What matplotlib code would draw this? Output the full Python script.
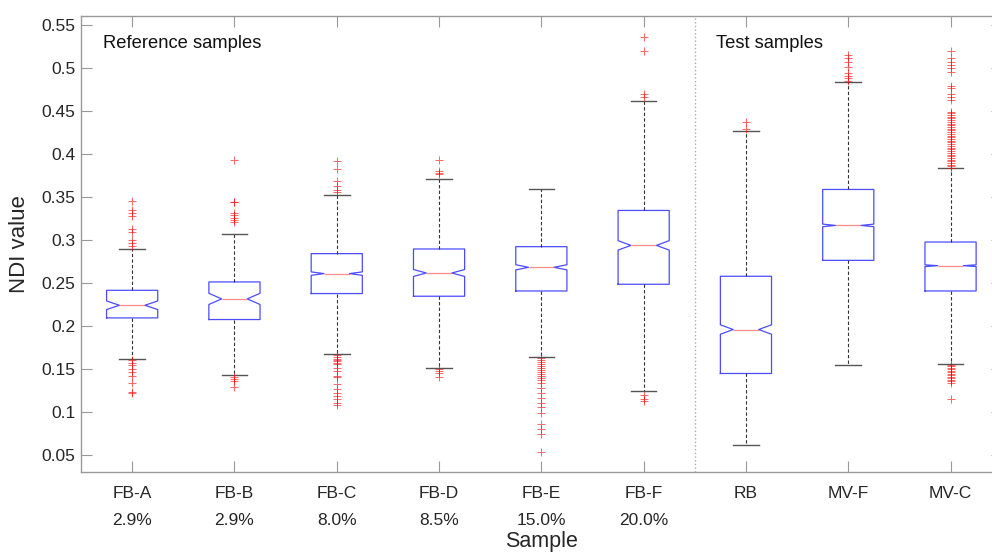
import matplotlib
matplotlib.use("Agg")
import matplotlib.pyplot as plt

plt.rcParams['font.family'] = ['Liberation Sans', 'DejaVu Sans']

samples = ["FB-A", "FB-B", "FB-C", "FB-D", "FB-E", "FB-F", "RB", "MV-F", "MV-C"]
percents = ["2.9%", "2.9%", "8.0%", "8.5%", "15.0%", "20.0%", "", "", ""]

q1 = [0.2091, 0.2072, 0.2374, 0.2343, 0.2404, 0.2482, 0.1445, 0.2760, 0.2404]
med = [0.2238, 0.2312, 0.2606, 0.2613, 0.2679, 0.2934, 0.1956, 0.3166, 0.2698]
q3 = [0.2412, 0.2509, 0.2838, 0.2892, 0.2919, 0.3340, 0.2575, 0.3584, 0.2973]
notch_half = [0.0050, 0.0065, 0.0020, 0.0040, 0.0030, 0.0055, 0.0055, 0.0015, 0.0010]
whis_lo = [0.1616, 0.1426, 0.1670, 0.1507, 0.1639, 0.1241, 0.0610, 0.1538, 0.1554]
whis_hi = [0.2892, 0.3070, 0.3514, 0.3708, 0.3584, 0.4616, 0.4268, 0.4829, 0.3828]

outliers = [
    [0.3445, 0.3348, 0.3309, 0.3271, 0.3124, 0.3089, 0.2992, 0.2961, 0.2930,
     0.1600, 0.1569, 0.1538, 0.1500, 0.1461, 0.1415, 0.1337, 0.1229, 0.1213],
    [0.3924, 0.3441, 0.3433, 0.3309, 0.3286, 0.3251, 0.3232, 0.3201,
     0.1407, 0.1384, 0.1357, 0.1291],
    [0.3916, 0.3824, 0.3677, 0.3627, 0.3581, 0.3550,
     0.1662, 0.1639, 0.1616, 0.1600, 0.1585, 0.1569, 0.1550, 0.1511, 0.1473,
     0.1415, 0.1407, 0.1318, 0.1260, 0.1221, 0.1183, 0.1144, 0.1105, 0.1074],
    [0.3928, 0.3800, 0.3781, 0.3766,
     0.1492, 0.1473, 0.1446, 0.1407],
    [0.1623, 0.1600, 0.1577, 0.1554, 0.1531, 0.1507, 0.1484, 0.1461, 0.1438,
     0.1415, 0.1391, 0.1368, 0.1337, 0.1279, 0.1221, 0.1163, 0.1105, 0.1059,
     0.0989, 0.0854, 0.0796, 0.0738, 0.0537],
    [0.5351, 0.5196, 0.4694, 0.4663,
     0.1190, 0.1144, 0.1124],
    [0.4369, 0.4284],
    [0.5146, 0.5108, 0.5070, 0.5011, 0.4934, 0.4903, 0.4876, 0.4845],
    [0.5196, 0.5108, 0.5070, 0.5031, 0.4991, 0.4953, 0.4787, 0.4760, 0.4694,
     0.4663, 0.4624, 0.4489, 0.4469, 0.4450, 0.4431, 0.4410, 0.4392, 0.4371,
     0.4350, 0.4332, 0.4310, 0.4291, 0.4270, 0.4249, 0.4231, 0.4210, 0.4190,
     0.4171, 0.4150, 0.4130, 0.4111, 0.4090, 0.4071, 0.4050, 0.4031, 0.4010,
     0.3990, 0.3971, 0.3950, 0.3930, 0.3910, 0.3891, 0.3870, 0.3851, 0.3836,
     0.1546, 0.1530, 0.1512, 0.1495, 0.1478, 0.1460, 0.1443, 0.1425, 0.1408,
     0.1390, 0.1372, 0.1355, 0.1337, 0.1152],
]

stats = []
for i in range(len(samples)):
    stats.append(dict(
        med=med[i], q1=q1[i], q3=q3[i],
        cilo=med[i] - notch_half[i], cihi=med[i] + notch_half[i],
        whislo=whis_lo[i], whishi=whis_hi[i],
        fliers=outliers[i], label=samples[i]))

W, H = 992, 554
fig = plt.figure(figsize=(W / 100, H / 100), dpi=100)
ax = fig.add_axes([81 / W, 1 - 472 / H, 920.7 / W, 456 / H])

positions = list(range(1, len(samples) + 1))
ax.bxp(stats, positions=positions, widths=0.5, capwidths=0.25,
       shownotches=True, patch_artist=False,
       boxprops=dict(color='#0000ff', linewidth=0.9, alpha=0.7),
       medianprops=dict(color='#ff4040', linewidth=0.9, alpha=0.6),
       whiskerprops=dict(color='#333333', linestyle=(0, (3, 2)), linewidth=0.8),
       capprops=dict(color='#555555', linewidth=1.0),
       flierprops=dict(marker='+', markeredgecolor='#ff0000', markersize=6,
                       markeredgewidth=0.7, alpha=0.6, linestyle='none'))

ax.axvline(6.5, color='#aaaaaa', linestyle=':', linewidth=1.0)

ax.set_xlim(0.5, 9.5)
ax.set_ylim(0.03, 0.56)
yt = [0.05, 0.1, 0.15, 0.2, 0.25, 0.3, 0.35, 0.4, 0.45, 0.5, 0.55]
ax.set_yticks(yt)
ax.set_yticklabels(["0.05", "0.1", "0.15", "0.2", "0.25", "0.3", "0.35", "0.4",
                    "0.45", "0.5", "0.55"])
ax.set_xticks(positions)
ax.set_xticklabels([s + ("\n" + p if p else "") for s, p in zip(samples, percents)],
                   linespacing=2.0, va='top')

for sp in ax.spines.values():
    sp.set_color('#999999')
    sp.set_linewidth(1.0)
ax.tick_params(axis='both', direction='in', length=8, color='#999999',
               top=True, right=True, labelcolor='#262626')
ax.tick_params(axis='y', labelsize=12.5, pad=4)
ax.tick_params(axis='x', labelsize=12.5, pad=10)

ax.set_ylabel("NDI value", fontsize=16, color='#262626', labelpad=8)
ax.set_xlabel("Sample", fontsize=15.5, color='#262626', labelpad=2)

fig.text(103 / W, 1 - 44 / H, "Reference samples", fontsize=13.2,
         color='#111111', va='center', ha='left')
fig.text(716 / W, 1 - 44 / H, "Test samples", fontsize=13.2,
         color='#111111', va='center', ha='left')

fig.savefig("out.png", dpi=100)
